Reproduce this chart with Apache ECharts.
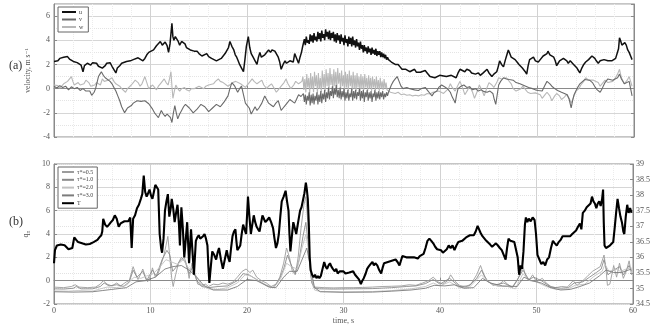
<!DOCTYPE html>
<html>
<head>
<meta charset="utf-8">
<script src="https://cdn.jsdelivr.net/npm/echarts/dist/echarts.min.js"></script>
<style>
  html, body { margin: 0; padding: 0; background: #fff; }
  #chart { width: 653px; height: 327px; }
</style>
</head>
<body>
<div id="chart"></div>
<script>
// ---- (a) velocity components, [time s, m/s] ----
const uTrace = [
  [0,2.25],[0.2,2.4],[0.4,2.3],[0.6,2.5],[0.8,2.45],[1,2.6],[1.2,2.5],[1.4,2.65],[1.6,2.45],[1.8,2.5],[2,2.25],[2.2,2.35],[2.4,2.15],[2.6,2.2],[2.8,1.95],[2.9,2.1],[3,1.4],[3.15,1.9],[3.3,1.75],[3.45,2.1],[3.6,2.2],[3.8,1.95],[4,2.15],[4.2,2.0],[4.4,2.1],[4.6,1.85],[4.8,1.9],[5.0,1.7],[5.1,1.55],[5.3,1.9],[5.45,2.1],[5.6,2.0],[5.8,2.15],[6.0,1.85],[6.2,1.9],[6.4,1.3],[6.55,1.7],[6.8,1.9],[7.0,2.1],[7.2,2.0],[7.5,2.25],[7.7,2.1],[7.9,2.3],[8.2,2.4],[8.4,2.3],[8.7,2.55],[8.9,2.4],[9.2,2.3],[9.4,2.5],[9.6,2.8],[9.8,3.0],[10.0,2.9],[10.3,3.2],[10.5,3.1],[10.6,3.55],[10.8,3.4],[11.0,3.9],[11.2,3.6],[11.5,3.85],[11.7,3.55],[11.85,3.0],[12.0,3.7],[12.2,5.4],[12.3,4.3],[12.4,4.0],[12.55,4.3],[12.7,4.4],[12.85,3.9],[13.0,3.6],[13.2,3.9],[13.4,4.05],[13.55,3.7],[13.7,3.4],[13.9,3.5],[14.1,3.2],[14.3,3.35],[14.5,3.1],[14.8,3.1],[15.0,2.9],[15.3,2.7],[15.5,2.85],[15.8,2.9],[16.0,2.65],[16.3,2.5],[16.5,2.6],[16.8,2.3],[17.0,2.45],[17.3,2.5],[17.5,2.7],[17.7,2.9],[17.9,3.0],[18.05,3.4],[18.2,3.9],[18.4,3.5],[18.6,3.2],[18.75,2.8],[18.9,2.6],[19.05,2.3],[19.2,2.0],[19.4,1.7],[19.6,1.4],[19.75,2.4],[19.9,3.5],[20.1,4.3],[20.25,3.4],[20.4,2.9],[20.6,2.6],[20.8,2.3],[21.0,2.0],[21.15,2.6],[21.3,3.0],[21.45,2.6],[21.6,2.5],[21.8,2.8],[22.0,2.9],[22.2,3.2],[22.4,3.0],[22.55,3.2],[22.7,3.3],[22.85,3.1],[23.0,3.0],[23.2,2.6],[23.35,2.2],[23.5,1.6],[23.7,2.0],[23.9,2.3],[24.05,2.1],[24.2,2.0],[24.4,2.3],[24.6,2.4],[24.75,2.2],[24.9,2.9],[25.1,2.5],[25.3,2.1],[25.45,2.6],[25.6,3.0],[25.7,3.4],
  [25.8,3.5],[25.9,4.1],[26.0,3.6],[26.1,4.3],[26.2,3.8],[26.3,4.0],[26.4,3.7],[26.5,4.5],[26.6,3.9],[26.7,4.4],[26.8,3.8],[26.9,4.6],[27.0,4.0],[27.1,4.3],[27.2,3.9],[27.3,4.7],[27.4,4.1],[27.5,4.6],[27.6,3.9],[27.7,4.8],[27.8,4.2],[27.9,4.5],[28.0,4.0],[28.1,4.9],[28.2,4.3],[28.3,4.7],[28.4,4.1],[28.5,4.8],[28.6,4.0],[28.7,4.6],[28.8,4.2],[28.9,4.7],[29.0,3.9],[29.1,4.5],[29.2,3.8],[29.3,4.6],[29.4,4.0],[29.5,4.4],[29.6,3.7],[29.7,4.5],[29.8,3.9],[29.9,4.2],[30.0,3.6],[30.1,4.4],[30.2,3.8],[30.3,4.1],[30.4,3.5],[30.5,4.3],[30.6,3.7],[30.7,4.2],[30.8,3.5],[30.9,4.3],[31.0,3.6],[31.1,4.0],[31.2,3.4],[31.3,4.1],[31.4,3.5],[31.5,3.8],[31.6,3.2],[31.7,3.9],[31.8,3.3],[31.9,3.6],[32.0,3.0],[32.1,3.6],[32.2,3.1],[32.3,3.4],[32.4,2.9],[32.5,3.5],[32.6,3.0],[32.7,3.3],[32.8,2.8],[32.9,3.4],[33.0,2.9],[33.1,3.2],[33.2,2.8],[33.3,3.3],[33.4,2.7],[33.5,3.1],[33.6,2.8],[33.7,3.1],[33.8,2.6],[33.9,3.0],[34.0,2.6],[34.1,2.9],[34.2,2.5],[34.3,2.8],[34.4,2.4],[34.5,2.6],[34.6,2.4],
  [34.7,2.3],[34.9,2.2],[35.1,2.3],[35.3,2.0],[35.6,2.0],[35.8,1.8],[36.0,1.6],[36.2,1.75],[36.4,1.6],[36.6,1.5],[36.8,1.4],[37.0,1.55],[37.3,1.6],[37.5,1.35],[37.7,1.2],[37.9,1.35],[38.1,1.5],[38.4,1.5],[38.6,1.3],[38.9,1.0],[39.1,1.15],[39.4,0.9],[39.6,1.0],[39.9,1.1],[40.1,1.2],[40.3,1.05],[40.6,1.0],[40.8,1.15],[41.1,1.1],[41.3,0.95],[41.6,0.9],[41.8,1.3],[42.0,1.6],[42.2,1.5],[42.5,1.4],[42.7,1.6],[43.0,1.5],[43.2,1.3],[43.4,1.35],[43.6,1.2],[43.9,1.3],[44.1,1.1],[44.4,1.3],[44.6,1.45],[44.8,1.6],[45.0,1.3],[45.3,1.0],[45.5,1.2],[45.8,1.4],[45.95,1.8],[46.1,2.3],[46.3,2.0],[46.5,1.8],[46.7,2.4],[46.85,2.8],[47.0,3.2],[47.15,2.9],[47.3,2.6],[47.5,2.7],[47.7,2.4],[47.9,2.2],[48.1,2.0],[48.3,1.9],[48.45,1.7],[48.6,1.6],[48.75,1.4],[48.9,1.2],[49.05,1.9],[49.2,2.4],[49.4,2.5],[49.6,2.6],[49.8,2.3],[50.1,2.2],[50.3,2.4],[50.6,2.7],[50.8,2.6],[51.0,2.9],[51.1,3.1],[51.3,2.8],[51.5,2.9],[51.7,2.6],[51.85,2.3],[52.0,1.9],[52.15,2.1],[52.3,2.3],[52.5,2.2],[52.7,2.5],[52.9,2.6],[53.05,2.3],[53.2,2.1],[53.4,2.3],[53.6,2.2],[53.75,2.0],[53.9,1.9],[54.1,1.7],[54.25,1.5],[54.4,1.3],[54.6,1.7],[54.8,2.0],[55.0,2.2],[55.2,2.3],[55.3,2.4],[55.5,2.5],[55.65,2.7],[55.8,2.8],[55.95,2.5],[56.1,2.3],[56.3,2.1],[56.5,2.3],[56.7,2.2],[56.9,2.4],[57.1,2.35],[57.3,2.3],[57.5,2.4],[57.7,2.3],[57.9,2.3],[58.1,2.5],[58.3,2.6],[58.4,3.3],[58.5,4.2],[58.6,4.0],[58.75,3.6],[58.9,3.5],[59.05,3.8],[59.2,3.6],[59.35,3.2],[59.5,3.0],[59.65,2.7],[59.8,2.4]
];

const vTrace = [
  [0,0.2],[0.3,0.05],[0.6,0.25],[0.9,0.1],[1.2,0.2],[1.5,-0.1],[1.8,0.15],[2.1,0.0],[2.4,0.1],[2.7,-0.15],[3.0,0.0],[3.3,-0.2],[3.5,-0.35],[3.7,-0.2],[3.9,-0.55],[4.0,-0.65],[4.15,-0.3],[4.3,0.0],[4.45,0.5],[4.6,1.0],[4.75,1.2],[4.9,1.4],[5.1,1.1],[5.3,0.9],[5.5,0.85],[5.8,0.6],[6.0,0.4],[6.2,0.1],[6.4,-0.2],[6.6,-0.6],[6.8,-1.0],[7.0,-1.5],[7.15,-1.75],[7.3,-2.0],[7.45,-1.8],[7.6,-1.6],[7.8,-1.5],[8.0,-1.4],[8.2,-1.2],[8.4,-1.1],[8.6,-1.0],[8.8,-0.9],[9.0,-1.05],[9.2,-1.2],[9.4,-1.0],[9.6,-1.0],[9.8,-1.25],[10.0,-1.4],[10.2,-1.7],[10.4,-2.0],[10.6,-2.2],[10.8,-2.4],[10.95,-2.1],[11.1,-1.8],[11.3,-2.1],[11.5,-2.3],[11.7,-2.1],[11.9,-2.0],[12.05,-2.4],[12.2,-2.8],[12.35,-2.0],[12.5,-1.4],[12.65,-2.0],[12.8,-2.5],[13.0,-2.1],[13.2,-1.8],[13.4,-1.5],[13.6,-1.3],[13.8,-1.45],[14.0,-1.6],[14.2,-1.8],[14.4,-2.0],[14.6,-1.85],[14.8,-1.7],[15.0,-1.5],[15.2,-1.3],[15.4,-1.4],[15.6,-1.5],[15.8,-1.7],[16.0,-1.9],[16.2,-1.75],[16.4,-1.6],[16.6,-1.45],[16.8,-1.3],[17.0,-1.4],[17.2,-1.5],[17.4,-1.3],[17.6,-1.1],[17.8,-0.85],[18.0,-0.6],[18.2,0.0],[18.4,0.5],[18.55,0.35],[18.7,0.2],[18.85,-0.05],[19.0,-0.3],[19.2,0.0],[19.4,0.2],[19.6,-0.5],[19.8,-1.2],[20.0,-1.4],[20.2,-1.6],[20.4,-2.1],[20.6,-1.8],[20.8,-1.5],[21.0,-1.8],[21.2,-1.6],[21.5,-1.2],[21.65,-0.9],[21.8,-0.6],[22.0,-0.9],[22.2,-1.2],[22.45,-1.35],[22.7,-1.5],[22.95,-1.2],[23.2,-1.0],[23.35,-1.4],[23.5,-1.8],[23.7,-1.6],[23.9,-1.4],[24.15,-1.15],[24.4,-0.9],[24.65,-1.05],[24.9,-1.2],[25.1,-0.85],[25.3,-0.5],[25.55,-0.65],[25.7,-0.8],
  [25.8,-0.4],[25.9,-1.1],[26.0,-0.5],[26.1,-1.3],[26.2,-0.6],[26.3,-1.0],[26.4,-0.3],[26.5,-1.4],[26.6,-0.5],[26.7,-1.2],[26.8,-0.4],[26.9,-1.3],[27.0,-0.6],[27.1,-1.0],[27.2,-0.3],[27.3,-1.3],[27.4,-0.5],[27.5,-1.1],[27.6,-0.2],[27.7,-1.2],[27.8,-0.4],[27.9,-0.9],[28.0,-0.1],[28.1,-1.1],[28.2,-0.3],[28.3,-0.8],[28.4,0.1],[28.5,-0.9],[28.6,-0.2],[28.7,-0.6],[28.8,0.2],[28.9,-0.8],[29.0,0.0],[29.1,-0.5],[29.2,0.3],[29.3,-0.7],[29.4,-0.1],[29.5,-0.8],[29.6,0.1],[29.7,-0.9],[29.8,-0.2],[29.9,-0.7],[30.0,0.0],[30.1,-1.0],[30.2,-0.3],[30.3,-0.8],[30.4,-0.1],[30.5,-1.0],[30.6,-0.4],[30.7,-0.7],[30.8,0.0],[30.9,-1.0],[31.0,-0.2],[31.1,-0.8],[31.2,-0.1],[31.3,-0.9],[31.4,-0.3],[31.5,-0.6],[31.6,0.0],[31.7,-1.0],[31.8,-0.2],[31.9,-0.8],[32.0,-0.1],[32.1,-1.1],[32.2,-0.3],[32.3,-0.7],[32.4,-0.1],[32.5,-1.0],[32.6,-0.3],[32.7,-0.8],[32.8,-0.2],[32.9,-1.1],[33.0,-0.4],[33.1,-0.7],[33.2,-0.1],[33.3,-1.0],[33.4,-0.3],[33.5,-0.8],[33.6,-0.2],[33.7,-0.9],[33.8,-0.3],[33.9,-0.7],[34.0,-0.2],[34.1,-0.9],[34.2,-0.4],[34.3,-0.7],[34.4,-0.3],[34.5,-0.6],[34.6,-0.3],
  [34.7,-0.2],[34.9,0.3],[35.1,0.6],[35.3,0.8],[35.5,1.0],[35.7,0.6],[35.9,0.2],[36.1,0.0],[36.3,-0.1],[36.5,0.1],[36.8,0.0],[37.0,0.05],[37.3,-0.1],[37.5,0.0],[37.7,-0.15],[38.0,0.0],[38.2,0.1],[38.4,0.1],[38.7,-0.2],[38.9,-0.4],[39.1,-0.6],[39.3,-0.35],[39.6,-0.2],[39.8,0.1],[40.1,0.3],[40.4,0.15],[40.7,0.0],[41.0,-0.3],[41.2,-0.7],[41.4,-1.0],[41.5,-1.2],[41.65,-0.5],[41.8,0.0],[42.1,0.2],[42.4,0.3],[42.7,0.1],[43.0,0.15],[43.3,-0.1],[43.6,0.0],[43.9,-0.2],[44.2,-0.1],[44.5,-0.25],[44.8,-0.3],[45.1,-0.2],[45.4,-0.4],[45.55,-0.9],[45.7,-1.3],[45.85,-0.5],[46.0,0.3],[46.2,0.6],[46.5,0.9],[46.8,0.8],[47.1,0.75],[47.5,0.7],[47.8,0.5],[48.2,0.4],[48.5,0.3],[48.8,0.2],[49.1,0.1],[49.5,0.0],[49.8,-0.1],[50.1,-0.15],[50.5,-0.2],[50.8,0.3],[51.0,0.6],[51.3,0.4],[51.5,0.2],[51.8,0.0],[52.1,-0.15],[52.5,-0.3],[52.8,-0.4],[53.1,-0.5],[53.3,-0.9],[53.5,-1.6],[53.65,-1.0],[53.8,-0.5],[54.1,0.0],[54.4,0.4],[54.6,0.5],[54.9,0.75],[55.1,0.8],[55.4,0.7],[55.7,0.5],[56.0,0.1],[56.2,-0.1],[56.5,-0.3],[56.7,0.0],[57.0,0.5],[57.3,0.8],[57.5,0.9],[57.8,0.7],[58.0,0.6],[58.3,0.9],[58.5,1.2],[58.7,0.8],[59.0,0.4],[59.2,0.5],[59.5,0.6],[59.65,0.0],[59.8,-0.6]
];

const wTrace = [
  [0,0.3],[0.2,0.15],[0.4,0.25],[0.6,0.05],[0.8,0.2],[1.0,0.4],[1.2,0.3],[1.4,0.6],[1.6,0.5],[1.8,1.0],[1.95,0.6],[2.1,0.3],[2.3,0.45],[2.5,0.5],[2.7,0.3],[2.9,0.2],[3.1,0.4],[3.3,0.7],[3.4,0.8],[3.6,0.5],[3.8,0.2],[4.0,0.35],[4.2,0.3],[4.4,0.5],[4.6,0.6],[4.8,0.3],[5.0,0.8],[5.2,0.6],[5.4,0.5],[5.6,0.7],[5.8,0.6],[6.0,0.9],[6.2,0.6],[6.4,0.4],[6.6,0.3],[6.8,0.2],[7.0,0.0],[7.2,-0.1],[7.4,-0.3],[7.6,0.0],[7.8,0.1],[8.0,0.3],[8.2,0.5],[8.4,0.7],[8.5,0.8],[8.7,0.5],[8.9,0.2],[9.1,0.4],[9.3,0.8],[9.4,1.0],[9.6,0.5],[9.8,0.0],[10.0,0.15],[10.2,0.3],[10.4,0.1],[10.6,-0.1],[10.8,0.2],[11.0,0.4],[11.2,0.6],[11.4,0.8],[11.6,0.5],[11.8,0.3],[11.95,0.8],[12.1,1.4],[12.2,0.2],[12.3,-0.8],[12.45,-0.2],[12.6,0.3],[12.8,0.0],[13.0,-0.2],[13.2,0.0],[13.5,0.1],[13.7,-0.1],[14.0,-0.2],[14.2,0.0],[14.5,0.0],[14.7,0.15],[15.0,0.2],[15.2,0.05],[15.5,0.0],[15.7,0.2],[16.0,0.3],[16.2,0.25],[16.5,0.4],[16.7,0.6],[17.0,0.8],[17.2,0.6],[17.5,0.5],[17.7,0.35],[18.0,0.2],[18.2,0.3],[18.5,0.5],[18.8,0.6],[19.0,0.55],[19.3,0.4],[19.5,0.3],[19.8,0.1],[20.0,0.2],[20.2,0.5],[20.5,0.8],[20.7,0.6],[21.0,0.4],[21.2,0.55],[21.5,0.7],[21.7,0.3],[22.0,0.0],[22.2,0.2],[22.5,0.4],[22.8,0.0],[23.0,-0.3],[23.2,-0.1],[23.5,0.2],[23.8,0.5],[24.0,0.8],[24.2,0.4],[24.5,0.0],[24.8,0.3],[25.0,0.6],[25.3,0.4],[25.5,0.3],[25.65,0.6],
  [25.75,1.0],[25.85,-0.1],[25.95,0.8],[26.05,-0.3],[26.15,1.2],[26.25,0.1],[26.35,0.9],[26.45,-0.4],[26.55,1.3],[26.65,0.0],[26.75,1.0],[26.85,-0.3],[26.95,1.4],[27.05,0.2],[27.15,1.1],[27.25,-0.4],[27.35,1.3],[27.45,0.0],[27.55,0.9],[27.65,-0.3],[27.75,1.5],[27.85,0.1],[27.95,1.2],[28.05,-0.2],[28.15,1.6],[28.25,0.2],[28.35,1.3],[28.45,-0.1],[28.55,1.7],[28.65,0.3],[28.75,1.2],[28.85,-0.1],[28.95,1.6],[29.05,0.2],[29.15,1.4],[29.25,0.0],[29.35,1.7],[29.45,0.4],[29.55,1.3],[29.65,-0.1],[29.75,1.5],[29.85,0.2],[29.95,1.1],[30.05,-0.2],[30.15,1.4],[30.25,0.1],[30.35,1.2],[30.45,-0.2],[30.55,1.5],[30.65,0.2],[30.75,1.1],[30.85,-0.1],[30.95,1.4],[31.05,0.0],[31.15,1.1],[31.25,-0.2],[31.35,1.3],[31.45,0.1],[31.55,1.0],[31.65,-0.2],[31.75,1.2],[31.85,0.0],[31.95,1.0],[32.05,-0.1],[32.15,1.2],[32.25,0.1],[32.35,0.9],[32.45,-0.2],[32.55,1.1],[32.65,0.0],[32.75,0.9],[32.85,-0.2],[32.95,1.0],[33.05,0.1],[33.15,0.8],[33.25,-0.1],[33.35,1.0],[33.45,0.0],[33.55,0.7],[33.65,-0.2],[33.75,0.9],[33.85,0.0],[33.95,0.6],[34.05,-0.1],[34.15,0.8],[34.25,0.0],[34.35,0.5],[34.45,-0.1],
  [34.6,-0.2],[34.8,-0.3],[35.0,-0.2],[35.3,-0.4],[35.6,-0.3],[35.9,-0.5],[36.2,-0.45],[36.5,-0.55],[36.8,-0.5],[37.1,-0.6],[37.4,-0.55],[37.7,-0.6],[38.0,-0.5],[38.3,-0.55],[38.6,-0.4],[38.9,-0.45],[39.2,-0.3],[39.5,-0.25],[39.8,-0.2],[40.0,-0.3],[40.3,-0.4],[40.5,-0.5],[40.8,0.0],[41.0,0.4],[41.2,0.1],[41.5,-0.2],[41.8,0.3],[42.0,0.6],[42.3,0.0],[42.5,-0.5],[42.8,-0.1],[43.0,0.2],[43.3,-0.3],[43.5,-0.8],[43.8,-0.2],[44.0,0.3],[44.3,-0.2],[44.5,-0.6],[44.8,0.1],[45.0,0.5],[45.3,0.3],[45.5,0.1],[45.8,0.5],[46.0,0.9],[46.3,0.8],[46.5,0.7],[46.8,0.9],[47.0,0.8],[47.3,0.4],[47.5,0.0],[47.8,-0.2],[48.0,-0.3],[48.3,0.0],[48.5,0.2],[48.8,-0.1],[49.0,-0.3],[49.3,-0.4],[49.5,-0.5],[49.8,-0.35],[50.0,-0.3],[50.3,-0.5],[50.5,-0.8],[50.8,-0.5],[51.0,-0.3],[51.3,-0.6],[51.5,-1.0],[51.8,-0.6],[52.0,-0.4],[52.3,-0.6],[52.5,-0.9],[52.8,-0.7],[53.0,-0.5],[53.3,-0.8],[53.5,-1.2],[53.8,-0.6],[54.0,-0.2],[54.3,0.0],[54.5,0.3],[54.8,0.6],[55.0,0.9],[55.3,0.7],[55.5,0.6],[55.8,0.7],[56.0,0.8],[56.3,0.5],[56.5,0.2],[56.8,0.5],[57.0,0.7],[57.3,0.5],[57.5,0.4],[57.8,0.6],[58.0,0.8],[58.3,1.2],[58.5,1.6],[58.7,0.9],[59.0,0.4],[59.3,0.7],[59.5,1.0],[59.65,0.6],[59.8,0.2]
];

// ---- (b) q_n for four tau* values, [time s, q_n] ----
const q05 = [
  [0,-0.55],[1,-0.6],[1.8,-0.5],[2.2,-0.35],[2.6,-0.55],[3.5,-0.6],[4.3,-0.55],[4.8,-0.3],[5.1,0.0],[5.5,-0.3],[6.0,-0.45],[6.5,-0.2],[6.9,-0.45],[7.5,-0.1],[7.8,0.0],[8.0,0.6],[8.2,1.2],[8.5,0.5],[8.7,0.1],[9.0,0.6],[9.2,1.0],[9.5,0.3],[9.7,-0.1],[10.0,0.4],[10.2,1.1],[10.5,0.3],[10.8,0.6],[11.1,1.4],[11.4,2.2],[11.6,3.0],[11.8,3.8],[12.0,2.0],[12.2,0.2],[12.35,-0.5],[12.6,0.5],[12.9,1.5],[13.2,1.8],[13.5,2.0],[13.8,1.2],[14.0,0.2],[14.3,1.5],[14.6,0.5],[14.9,-0.3],[15.3,-0.4],[15.7,-0.3],[16.0,-0.5],[16.5,-0.3],[17.0,-0.35],[17.5,-0.2],[18.0,-0.3],[18.5,-0.15],[19.0,0.3],[19.5,0.8],[19.9,1.0],[20.3,0.7],[20.6,0.9],[21.0,0.3],[21.5,0.0],[22.0,-0.2],[22.5,-0.5],[23.0,-0.3],[23.4,0.3],[23.8,1.5],[24.1,2.8],[24.4,2.0],[24.7,0.8],[25.0,0.5],[25.3,2.0],[25.6,4.5],[25.9,6.5],[26.1,7.2],[26.3,5.0],[26.5,1.5],[26.7,-0.2],[27.0,-0.55],[28,-0.6],[29,-0.62],[30,-0.6],[31,-0.6],[32,-0.58],[33,-0.55],[34,-0.5],[35,-0.48],[36,-0.45],[36.8,-0.35],[37.5,-0.4],[38.2,-0.2],[38.8,0.0],[39.3,0.3],[39.8,-0.1],[40.3,-0.3],[40.8,0.0],[41.1,0.5],[41.5,0.0],[42.0,-0.4],[42.6,-0.55],[43.2,-0.3],[43.8,0.5],[44.2,1.3],[44.6,0.4],[45.0,-0.1],[45.5,-0.3],[46.0,-0.4],[46.6,0.0],[47.0,-0.3],[47.5,-0.6],[48.0,0.0],[48.4,0.8],[48.6,1.2],[48.9,0.4],[49.2,0.0],[49.6,0.5],[50.0,-0.1],[50.6,0.2],[51.0,-0.2],[51.5,-0.5],[52.0,-0.6],[52.6,-0.5],[53.2,-0.55],[53.8,0.0],[54.2,-0.4],[54.8,0.0],[55.3,0.4],[55.8,0.8],[56.2,1.0],[56.6,1.2],[57.0,2.2],[57.2,1.0],[57.35,-0.4],[57.6,-0.3],[58.0,1.3],[58.3,0.3],[58.6,1.5],[59.0,0.2],[59.3,0.8],[59.6,1.7],[59.85,0.5]
];
const q10 = [
  [0,-0.7],[1,-0.72],[2,-0.65],[2.3,-0.5],[2.8,-0.7],[4,-0.7],[4.8,-0.5],[5.2,-0.2],[5.7,-0.45],[6.5,-0.35],[7.2,-0.5],[7.8,-0.1],[8.2,0.9],[8.6,0.3],[9.2,0.8],[9.6,0.0],[10.2,0.9],[10.6,0.4],[11.2,1.8],[11.7,2.6],[12.0,2.2],[12.3,0.8],[12.7,1.2],[13.2,2.0],[13.6,1.6],[14.0,0.6],[14.4,1.2],[14.8,0.0],[15.3,-0.5],[16.0,-0.6],[17.0,-0.5],[18.0,-0.45],[19.0,0.0],[19.6,0.6],[20.2,0.5],[21.0,0.1],[22.0,-0.4],[22.7,-0.6],[23.3,0.0],[23.8,1.0],[24.2,2.2],[24.5,1.5],[25.0,0.6],[25.4,1.8],[25.8,3.8],[26.1,5.0],[26.3,3.5],[26.6,0.5],[26.9,-0.6],[27.5,-0.7],[29,-0.72],[31,-0.7],[33,-0.68],[35,-0.6],[36.5,-0.5],[37.5,-0.45],[38.5,-0.25],[39.3,0.1],[40.0,-0.3],[41.0,0.2],[42.0,-0.5],[43.0,-0.45],[43.8,0.2],[44.3,0.9],[44.8,0.1],[45.5,-0.4],[46.6,-0.2],[47.5,-0.55],[48.1,0.2],[48.6,0.9],[49.2,0.1],[49.7,0.3],[50.5,0.0],[51.5,-0.55],[52.5,-0.65],[53.3,-0.6],[53.9,-0.2],[54.8,-0.1],[55.5,0.3],[56.2,0.7],[56.7,1.0],[57.0,1.8],[57.4,0.5],[58.0,0.9],[58.6,1.2],[59.0,0.5],[59.6,1.3],[59.85,0.8]
];
const q20 = [
  [0,-0.88],[1.5,-0.9],[2.5,-0.85],[4,-0.9],[4.8,-0.7],[5.5,-0.55],[6.5,-0.6],[7.5,-0.4],[8.3,0.3],[9.0,0.2],[9.6,0.4],[10.3,0.6],[11.0,1.2],[11.6,1.8],[12.2,1.6],[12.8,1.4],[13.4,1.8],[14.0,1.0],[14.6,0.6],[15.2,-0.3],[16.0,-0.7],[17.0,-0.75],[18.0,-0.6],[19.0,-0.2],[19.8,0.5],[20.4,0.4],[21.2,0.0],[22.2,-0.5],[22.8,-0.6],[23.5,0.2],[24.1,1.5],[24.6,1.2],[25.2,1.0],[25.7,2.8],[26.1,4.0],[26.4,2.5],[26.7,0.2],[27.0,-0.8],[27.5,-0.92],[30,-0.95],[33,-0.93],[35,-0.85],[37,-0.7],[38.5,-0.5],[39.3,-0.2],[40.0,-0.45],[41.0,-0.1],[42.0,-0.6],[43.0,-0.6],[44.3,0.5],[45.0,-0.1],[46.0,-0.5],[47.0,-0.5],[47.8,-0.7],[48.6,0.6],[49.3,0.0],[50.0,-0.1],[51.0,-0.5],[52.0,-0.75],[53.3,-0.7],[54.0,-0.4],[55.0,-0.3],[56.0,0.4],[56.8,0.8],[57.1,1.4],[57.5,0.8],[58.2,1.0],[58.7,0.8],[59.3,1.0],[59.85,1.1]
];
const q30 = [
  [0,-0.95],[2,-0.98],[4,-0.95],[5,-0.85],[6,-0.75],[7.5,-0.6],[8.5,-0.1],[9.5,0.0],[10.5,0.3],[11.5,1.0],[12.3,1.2],[13.2,1.3],[14.0,0.9],[14.8,0.3],[15.5,-0.4],[16.5,-0.8],[18.0,-0.8],[19.0,-0.5],[20.0,0.1],[21.0,0.0],[22.3,-0.55],[23.0,-0.6],[23.8,0.3],[24.4,0.8],[25.2,0.8],[25.8,2.0],[26.2,2.8],[26.6,1.0],[27.0,-0.6],[27.6,-0.95],[30,-1.0],[33,-0.98],[35,-0.9],[37,-0.8],[38.5,-0.65],[39.4,-0.4],[40.5,-0.45],[41.5,-0.35],[42.5,-0.65],[43.5,-0.6],[44.4,0.2],[45.2,-0.2],[46.5,-0.45],[48.0,-0.5],[48.7,0.3],[49.5,0.0],[50.5,-0.2],[51.5,-0.6],[52.5,-0.8],[53.5,-0.75],[54.5,-0.5],[55.5,-0.2],[56.5,0.4],[57.2,0.9],[58.0,0.7],[58.8,0.7],[59.5,0.9],[59.85,1.0]
];

// ---- (b) temperature T on the right axis, [time s, deg C] ----
const tempTrace = [
  [0,35.81],[0.1,36.23],[0.3,36.38],[0.5,36.34],[0.7,36.41],[0.9,36.36],[1.1,36.39],[1.3,36.34],[1.5,36.26],[1.7,36.23],[1.9,36.30],[2.1,36.64],[2.3,36.56],[2.5,36.49],[2.7,36.53],[2.9,36.45],[3.1,36.49],[3.3,36.41],[3.5,36.38],[3.7,36.43],[3.9,36.39],[4.1,36.49],[4.3,36.53],[4.5,36.56],[4.7,36.64],[4.9,36.71],[5.0,36.83],[5.1,37.24],[5.3,37.05],[5.5,36.98],[5.7,37.05],[5.9,37.13],[6.1,37.20],[6.3,37.35],[6.5,37.24],[6.7,36.98],[6.9,37.09],[7.1,37.13],[7.3,37.16],[7.5,37.20],[7.7,37.16],[7.9,37.28],[8.05,36.30],[8.2,37.24],[8.4,37.35],[8.6,37.58],[8.8,37.69],[9.0,37.88],[9.15,38.03],[9.3,38.63],[9.45,38.10],[9.6,37.95],[9.75,38.06],[9.9,38.18],[10.05,37.99],[10.2,37.88],[10.35,38.10],[10.5,38.33],[10.65,38.29],[10.8,38.18],[10.95,36.75],[11.1,36.30],[11.2,36.15],[11.35,36.60],[11.5,37.50],[11.65,37.80],[11.8,38.03],[11.95,37.31],[12.1,37.58],[12.2,37.88],[12.35,37.58],[12.5,37.13],[12.65,37.43],[12.8,37.69],[12.95,37.05],[13.05,36.38],[13.2,37.61],[13.35,36.94],[13.5,36.00],[13.65,36.56],[13.8,37.13],[13.9,36.45],[14.0,35.81],[14.1,36.38],[14.2,36.90],[14.35,36.19],[14.5,35.44],[14.6,36.00],[14.7,36.53],[14.85,36.64],[15.0,36.71],[15.15,36.60],[15.3,36.56],[15.45,36.68],[15.6,36.75],[15.75,36.60],[15.9,36.38],[16.0,35.70],[16.1,35.18],[16.25,35.70],[16.4,36.19],[16.6,36.08],[16.8,35.93],[16.95,36.15],[17.1,36.30],[17.3,35.93],[17.5,35.63],[17.7,35.93],[17.9,36.23],[18.05,36.00],[18.2,35.85],[18.35,36.30],[18.5,36.68],[18.65,36.83],[18.8,36.90],[18.9,36.53],[19.0,36.23],[19.15,36.30],[19.3,36.38],[19.45,36.75],[19.6,37.05],[19.75,36.90],[19.9,36.75],[20.0,37.31],[20.1,37.95],[20.25,37.31],[20.4,36.75],[20.55,37.05],[20.7,37.35],[20.85,37.13],[21.0,36.98],[21.15,36.90],[21.3,36.83],[21.45,37.09],[21.6,37.35],[21.75,37.24],[21.9,37.13],[22.1,37.20],[22.3,37.28],[22.5,37.13],[22.7,36.94],[22.85,36.60],[23.0,36.30],[23.15,36.45],[23.3,36.75],[23.45,37.31],[23.6,37.80],[23.8,37.95],[24.0,38.14],[24.15,37.80],[24.3,37.50],[24.4,36.75],[24.5,36.19],[24.65,36.68],[24.8,37.13],[24.95,36.94],[25.1,36.75],[25.3,37.13],[25.5,37.50],[25.65,37.61],[25.8,37.65],[25.95,38.06],[26.1,38.40],[26.2,38.18],[26.3,37.88],[26.4,37.13],[26.5,36.00],[26.6,35.59],[26.75,35.44],[26.9,35.36],[27.05,35.44],[27.2,35.33],[27.35,35.40],[27.5,35.33],[27.65,35.40],[27.8,35.44],[28.0,35.85],[28.15,35.70],[28.3,35.63],[28.45,35.74],[28.6,35.81],[28.75,35.70],[28.9,35.63],[29.1,35.55],[29.25,35.63],[29.4,35.48],[29.6,35.55],[29.8,35.51],[30.0,35.55],[30.2,35.48],[30.4,35.44],[30.6,35.51],[30.8,35.48],[31.0,35.55],[31.2,35.44],[31.4,35.40],[31.6,35.29],[31.8,35.14],[31.95,35.25],[32.1,35.33],[32.3,35.48],[32.45,35.63],[32.6,35.70],[32.8,35.78],[33.0,35.85],[33.15,35.74],[33.3,35.81],[33.5,35.74],[33.7,35.59],[33.9,35.48],[34.05,35.66],[34.2,35.81],[34.4,35.78],[34.6,35.85],[34.8,35.81],[35.0,35.89],[35.2,35.85],[35.4,35.93],[35.6,35.85],[35.8,35.74],[35.95,35.89],[36.1,36.04],[36.3,36.08],[36.5,36.00],[36.7,36.04],[36.9,36.00],[37.1,36.04],[37.3,36.00],[37.5,36.04],[37.7,35.96],[37.9,36.04],[38.1,36.08],[38.3,36.11],[38.5,36.30],[38.7,36.53],[38.9,36.60],[39.1,36.53],[39.3,36.45],[39.5,36.34],[39.7,36.26],[39.9,36.30],[40.1,36.23],[40.3,36.15],[40.5,36.11],[40.7,36.26],[40.9,36.38],[41.1,36.30],[41.3,36.38],[41.5,36.23],[41.7,36.38],[41.9,36.49],[42.1,36.45],[42.3,36.53],[42.5,36.49],[42.7,36.64],[42.9,36.60],[43.1,36.71],[43.3,36.75],[43.5,36.71],[43.7,36.83],[43.9,37.01],[44.05,36.90],[44.2,36.79],[44.4,36.68],[44.6,36.64],[44.8,36.53],[45.0,36.56],[45.2,36.41],[45.4,36.34],[45.6,36.38],[45.8,36.45],[46.0,36.38],[46.2,36.30],[46.4,36.23],[46.6,36.08],[46.8,35.93],[46.95,36.30],[47.1,36.60],[47.3,36.53],[47.5,36.56],[47.7,36.49],[47.9,36.45],[48.05,36.00],[48.2,35.44],[48.35,35.74],[48.5,35.63],[48.65,36.19],[48.8,37.05],[48.9,37.28],[49.05,37.13],[49.2,37.24],[49.4,37.16],[49.6,37.28],[49.8,37.20],[49.95,36.75],[50.1,36.08],[50.3,35.93],[50.5,35.78],[50.7,35.85],[50.9,35.74],[51.1,35.93],[51.3,36.00],[51.5,36.30],[51.7,36.53],[51.9,36.45],[52.1,36.38],[52.3,36.49],[52.5,36.56],[52.7,36.68],[52.9,36.64],[53.1,36.68],[53.3,36.71],[53.5,36.68],[53.7,36.75],[53.9,36.79],[54.1,36.86],[54.3,36.98],[54.5,37.09],[54.65,36.90],[54.8,37.43],[55.0,37.50],[55.2,37.61],[55.4,37.58],[55.6,37.73],[55.75,37.95],[55.9,37.80],[56.05,37.73],[56.2,37.58],[56.35,37.73],[56.5,37.80],[56.65,37.65],[56.8,37.88],[56.9,38.18],[56.97,37.13],[57.05,36.38],[57.2,36.30],[57.4,36.34],[57.6,36.38],[57.8,36.41],[57.95,36.49],[58.1,36.94],[58.25,37.43],[58.4,37.88],[58.55,37.58],[58.7,37.31],[58.85,37.13],[59.0,36.83],[59.1,36.75],[59.25,37.31],[59.4,37.69],[59.55,37.43],[59.7,37.58],[59.85,37.43]
];

// axis ranges
const timeRange = [0, 60];
const velocityRange = [-4, 7];
const qRange = [-2, 10];
const tempRange = [34.5, 39];

const SERIF = '"Liberation Serif", "DejaVu Serif", serif';
const LABEL = { color: '#555', fontSize: 8, fontFamily: SERIF };
const FRAME = '#8a8a8a';

const chart = echarts.init(document.getElementById('chart'), null, { renderer: 'canvas' });

function timeAxis(gridIndex, showLabels) {
  return {
    type: 'value', gridIndex, min: timeRange[0], max: timeRange[1], interval: 10,
    axisLine: { show: true, lineStyle: { color: FRAME } },
    axisTick: { show: true, inside: true, length: 3, lineStyle: { color: FRAME } },
    axisLabel: Object.assign({ show: showLabels, margin: 3 }, LABEL),
    splitLine: { show: true, lineStyle: { color: '#d2d2d2', width: 1 } },
    minorTick: { show: false, splitNumber: 5 },
    minorSplitLine: { show: true, lineStyle: { color: '#ececec', type: 'dotted' } },
    name: showLabels ? 'time, s' : '',
    nameLocation: 'middle', nameGap: 13,
    nameTextStyle: { color: '#555', fontSize: 8, fontFamily: SERIF }
  };
}

const legendBase = {
  orient: 'vertical', left: 58,
  itemHeight: 6,
  borderColor: '#666', borderWidth: 1, backgroundColor: '#fff',
  itemStyle: { opacity: 0 },
  textStyle: { fontSize: 6, color: '#444', fontFamily: SERIF, padding: [0, 0, 0, -2] },
  selectedMode: false
};

const option = {
  animation: false,
  backgroundColor: '#fff',
  grid: [
    { left: 54, right: 19, top: 4, height: 133, show: true, borderColor: FRAME, borderWidth: 1, backgroundColor: '#fff' },
    { left: 54, right: 19, top: 164, height: 140, show: true, borderColor: FRAME, borderWidth: 1, backgroundColor: '#fff' }
  ],
  xAxis: [ timeAxis(0, false), timeAxis(1, true) ],
  yAxis: [
    {
      type: 'value', gridIndex: 0, min: velocityRange[0], max: velocityRange[1], interval: 2,
      axisLine: { show: true, lineStyle: { color: FRAME } },
      axisTick: { show: true, inside: true, length: 3, lineStyle: { color: FRAME } },
      axisLabel: Object.assign({ margin: 4, showMaxLabel: false }, LABEL),
      splitLine: { show: true, lineStyle: { color: '#d6d6d6' } },
      minorTick: { show: false, splitNumber: 2 },
      minorSplitLine: { show: true, lineStyle: { color: '#e4e4e4', type: 'dotted' } },
      name: 'velocity, m s\u207B\u00B9', nameLocation: 'middle', nameGap: 9,
      nameTextStyle: { color: '#555', fontSize: 7.5, fontFamily: SERIF }
    },
    {
      type: 'value', gridIndex: 1, min: qRange[0], max: qRange[1], interval: 2,
      axisLine: { show: true, lineStyle: { color: FRAME } },
      axisTick: { show: true, inside: true, length: 3, lineStyle: { color: FRAME } },
      axisLabel: Object.assign({ margin: 4 }, LABEL),
      splitLine: { show: true, lineStyle: { color: '#d6d6d6' } },
      name: '{q|q}{n|n}', nameLocation: 'middle', nameGap: 10,
      nameTextStyle: {
        color: '#555', fontSize: 8, fontFamily: SERIF,
        rich: { q: { fontSize: 8, fontFamily: SERIF, color: '#555' }, n: { fontSize: 5.5, fontFamily: SERIF, color: '#555', padding: [4, 0, 0, 0] } }
      }
    },
    {
      type: 'value', gridIndex: 1, position: 'right', min: tempRange[0], max: tempRange[1], interval: 0.5,
      axisLine: { show: true, lineStyle: { color: FRAME } },
      axisTick: { show: true, inside: true, length: 3, lineStyle: { color: FRAME } },
      axisLabel: Object.assign({ margin: 3 }, LABEL),
      splitLine: { show: true, lineStyle: { color: '#e2e2e2', type: 'dotted' } }
    },
    {
      type: 'value', gridIndex: 0, position: 'right', min: velocityRange[0], max: velocityRange[1], interval: 2,
      axisLine: { show: true, lineStyle: { color: FRAME } },
      axisTick: { show: true, inside: true, length: 3, lineStyle: { color: FRAME } },
      axisLabel: { show: false },
      splitLine: { show: false }
    }
  ],
  legend: [
    Object.assign({}, legendBase, {
      data: ['u', 'v', 'w'], top: 7, itemWidth: 14, itemGap: 1.5, padding: [2, 5, 2, 3]
    }),
    Object.assign({}, legendBase, {
      data: ['\u03C4*=0.5', '\u03C4*=1.0', '\u03C4*=2.0', '\u03C4*=3.0', 'T'], top: 167,
      itemWidth: 12, itemGap: 1.8, padding: [2, 4, 2, 3]
    })
  ],
  graphic: [
    { type: 'text', left: 9, top: 60, style: { text: '(a)', fontSize: 12, fontFamily: SERIF, fill: '#333' } },
    { type: 'text', left: 9, top: 216, style: { text: '(b)', fontSize: 12, fontFamily: SERIF, fill: '#333' } }
  ],
  series: [
    { name: 'u', type: 'line', xAxisIndex: 0, yAxisIndex: 0, data: uTrace, symbol: 'none', z: 4,
      lineStyle: { color: '#111', width: 1.5 }, itemStyle: { color: '#111' } },
    { name: 'v', type: 'line', xAxisIndex: 0, yAxisIndex: 0, data: vTrace, symbol: 'none', z: 3,
      lineStyle: { color: '#6a6a6a', width: 1.1 }, itemStyle: { color: '#6a6a6a' } },
    { name: 'w', type: 'line', xAxisIndex: 0, yAxisIndex: 0, data: wTrace, symbol: 'none', z: 2,
      lineStyle: { color: '#b8b8b8', width: 1.1 }, itemStyle: { color: '#c8c8c8' } },
    { name: '\u03C4*=0.5', type: 'line', xAxisIndex: 1, yAxisIndex: 1, data: q05, symbol: 'none', z: 3,
      lineStyle: { color: '#9c9c9c', width: 0.9 }, itemStyle: { color: '#9c9c9c' } },
    { name: '\u03C4*=1.0', type: 'line', xAxisIndex: 1, yAxisIndex: 1, data: q10, symbol: 'none', z: 3,
      lineStyle: { color: '#8a8a8a', width: 0.9 }, itemStyle: { color: '#8a8a8a' } },
    { name: '\u03C4*=2.0', type: 'line', xAxisIndex: 1, yAxisIndex: 1, data: q20, symbol: 'none', z: 3,
      lineStyle: { color: '#c2c2c2', width: 0.9 }, itemStyle: { color: '#c2c2c2' } },
    { name: '\u03C4*=3.0', type: 'line', xAxisIndex: 1, yAxisIndex: 1, data: q30, symbol: 'none', z: 3,
      lineStyle: { color: '#7c7c7c', width: 0.9 }, itemStyle: { color: '#7c7c7c' } },
    { name: 'T', type: 'line', xAxisIndex: 1, yAxisIndex: 2, data: tempTrace, symbol: 'none', z: 5,
      lineStyle: { color: '#000', width: 2.1 }, itemStyle: { color: '#000' } }
  ]
};

chart.setOption(option);
</script>
</body>
</html>
